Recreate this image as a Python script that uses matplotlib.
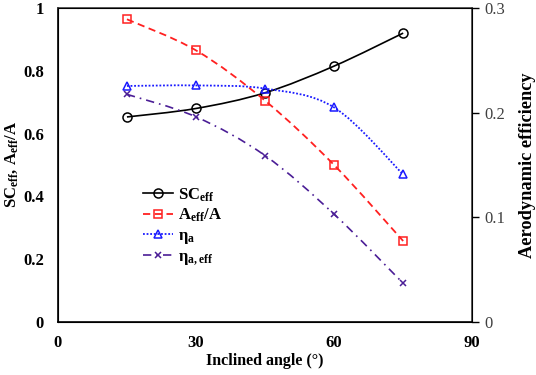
import numpy as np
import matplotlib
matplotlib.use("Agg")
import matplotlib.pyplot as plt
from matplotlib.path import Path
from matplotlib.patches import PathPatch
from matplotlib.lines import Line2D

plt.rcParams['font.family'] = ['Liberation Serif', 'DejaVu Serif']
plt.rcParams['mathtext.fontset'] = 'custom'
plt.rcParams['mathtext.rm'] = 'Liberation Serif:bold'
plt.rcParams['mathtext.it'] = 'Liberation Serif:bold'
plt.rcParams['mathtext.bf'] = 'Liberation Serif:bold'

# data
angle = [15, 30, 45, 60, 75]
sc_eff = [0.653, 0.680, 0.730, 0.815, 0.920]
aeff_a = [0.964, 0.865, 0.705, 0.500, 0.258]
eta_a = [0.2255, 0.226, 0.223, 0.205, 0.141]
eta_a_eff = [0.2175, 0.196, 0.159, 0.103, 0.037]


def smooth_path(x, y):
    """Excel-like smoothed line: Catmull-Rom segments as cubic Beziers"""
    p = np.column_stack([x, y]).astype(float)
    n = len(p)
    verts = [p[0]]
    codes = [Path.MOVETO]
    for i in range(n - 1):
        p0 = p[i - 1] if i > 0 else p[i]
        p3 = p[i + 2] if i + 2 < n else p[i + 1]
        c1 = p[i] + (p[i + 1] - p0) / 6.0
        c2 = p[i + 1] - (p3 - p[i]) / 6.0
        verts += [c1, c2, p[i + 1]]
        codes += [Path.CURVE4] * 3
    return Path(verts, codes)


def draw(ax, x, y, color, ls, lw, marker, ms):
    ax.add_patch(PathPatch(smooth_path(x, y), fill=False, edgecolor=color,
                           linestyle=ls, linewidth=lw, zorder=2))
    ax.plot(x, y, linestyle='none', marker=marker, markersize=ms,
            markerfacecolor='none', markeredgecolor=color, markeredgewidth=1.1, zorder=3)
    return Line2D([], [], color=color, linestyle=ls, linewidth=lw, marker=marker,
                  markersize=ms, markerfacecolor='none', markeredgecolor=color, markeredgewidth=1.1)


fig = plt.figure(figsize=(5.36, 3.75), dpi=100)
ax = fig.add_axes([0.108, 0.1413, 0.773, 0.8374])
ax2 = ax.twinx()

purple = '#4B1E96'
h1 = draw(ax, angle, sc_eff, 'black', '-', 1.2, 'o', 6.5)
h2 = draw(ax, angle, aeff_a, '#FF2020', (0, (4, 2.5)), 1.3, 's', 6)
h3 = draw(ax2, angle, eta_a, '#1A1AFF', (0, (1, 1)), 1.3, '^', 6)
h4 = draw(ax2, angle, eta_a_eff, purple, (0, (5, 3, 1, 3)), 1.2, 'x', 5)

ax.set_xlim(0, 90)
ax.set_ylim(0, 1)
ax2.set_ylim(0, 0.3)
ax.set_xticks([0, 30, 60, 90])
ax.set_yticks([0, 0.2, 0.4, 0.6, 0.8, 1])
ax.set_yticklabels(['0', '0.2', '0.4', '0.6', '0.8', '1'])
ax2.set_yticks([0, 0.1, 0.2, 0.3])
ax2.set_yticklabels(['0', '0.1', '0.2', '0.3'])

ax.tick_params(axis='y', length=0, labelsize=12, pad=10)
ax.tick_params(axis='x', length=0, labelsize=12, pad=9)
for t in ax.get_xticklabels() + ax.get_yticklabels():
    t.set_fontweight('bold')
ax2.tick_params(axis='y', direction='out', length=5, width=1, labelsize=12,
                labelcolor='#404040', pad=4)

for s in ax.spines.values():
    s.set_linewidth(1.2)
    s.set_color('#404040')
ax.spines['left'].set_color('black')
ax.spines['bottom'].set_color('black')

ax.set_xlabel('Inclined angle (°)', fontsize=11.5, fontweight='bold', labelpad=2)
ax.set_ylabel(r'SC$_{\mathrm{eff}}$, A$_{\mathrm{eff}}$/A', fontsize=12, fontweight='bold', labelpad=2)
ax2.set_ylabel('Aerodynamic efficiency', fontsize=13.2, fontweight='bold', labelpad=10)

ax.legend([h1, h2, h3, h4],
          [r'SC$_{\mathrm{eff}}$', r'A$_{\mathrm{eff}}$/A', r'$\mathrm{\eta}_{\mathrm{a}}$',
           r'$\mathrm{\eta}_{\mathrm{a,eff}}$'],
          loc='upper left', bbox_to_anchor=(0.17, 0.48), frameon=False,
          prop={'size': 12, 'weight': 'bold'}, handlelength=1.8, handletextpad=0.3,
          labelspacing=0.2)

fig.savefig('out.png', dpi=100)
